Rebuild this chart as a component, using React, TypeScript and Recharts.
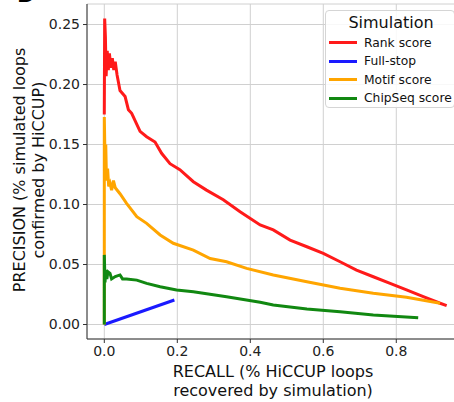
import React from 'react';
import { LineChart, Line, XAxis, YAxis, CartesianGrid } from 'recharts';

const rankRecall = [0.0, 0.001, 0.003, 0.005, 0.008, 0.011, 0.014, 0.018, 0.022, 0.026, 0.03, 0.035, 0.043, 0.057, 0.066, 0.075, 0.098, 0.116, 0.139, 0.157, 0.18, 0.207, 0.244, 0.28, 0.326, 0.372, 0.427, 0.463, 0.509, 0.555, 0.6, 0.646, 0.691, 0.737, 0.783, 0.828, 0.874, 0.92, 0.938];
const rankPrecision = [0.175, 0.255, 0.24, 0.207, 0.228, 0.212, 0.226, 0.214, 0.222, 0.212, 0.219, 0.208, 0.195, 0.19, 0.179, 0.176, 0.161, 0.1565, 0.152, 0.1427, 0.134, 0.129, 0.119, 0.112, 0.104, 0.094, 0.083, 0.0788, 0.0704, 0.0648, 0.0593, 0.0523, 0.0454, 0.0398, 0.0343, 0.0288, 0.0232, 0.0177, 0.0157];

const fullStopRecall = [0.0, 0.192];
const fullStopPrecision = [0.0, 0.0204];

const motifRecall = [0.0, 0.0, 0.002, 0.004, 0.006, 0.009, 0.012, 0.0156, 0.02, 0.025, 0.03, 0.043, 0.061, 0.089, 0.116, 0.153, 0.189, 0.244, 0.29, 0.335, 0.39, 0.463, 0.555, 0.646, 0.737, 0.828, 0.92];
const motifPrecision = [0.0, 0.173, 0.137, 0.15, 0.12, 0.13, 0.115, 0.1177, 0.112, 0.12, 0.114, 0.109, 0.101, 0.0898, 0.0843, 0.0746, 0.0677, 0.062, 0.055, 0.0523, 0.0468, 0.0413, 0.0357, 0.0302, 0.026, 0.0227, 0.0177];

const chipRecall = [0.0, 0.0, 0.002, 0.004, 0.007, 0.01, 0.0156, 0.02, 0.03, 0.043, 0.05, 0.061, 0.089, 0.116, 0.153, 0.198, 0.244, 0.335, 0.427, 0.463, 0.555, 0.646, 0.737, 0.86];
const chipPrecision = [0.0, 0.058, 0.035, 0.0454, 0.038, 0.044, 0.0427, 0.038, 0.04, 0.0413, 0.038, 0.038, 0.037, 0.0343, 0.0315, 0.0288, 0.0273, 0.0232, 0.0185, 0.0163, 0.0129, 0.0107, 0.0079, 0.0057];

const xTicks = [0.0, 0.2, 0.4, 0.6, 0.8];
const yTicks = [0.0, 0.05, 0.1, 0.15, 0.2, 0.25];

const seriesNames = ['Rank score', 'Full-stop', 'Motif score', 'ChipSeq score'];
const seriesColors = ['#ff1a1a', '#1a1aff', '#ffa500', '#118811'];

const toPoints = (xs: number[], ys: number[]) => xs.map((x, i) => ({ x, y: ys[i] }));

const series = [
  toPoints(rankRecall, rankPrecision),
  toPoints(fullStopRecall, fullStopPrecision),
  toPoints(motifRecall, motifPrecision),
  toPoints(chipRecall, chipPrecision),
];

const FONT = '"DejaVu Sans", sans-serif';
const X_DOMAIN: [number, number] = [-0.0474, 0.9718];
const Y_DOMAIN: [number, number] = [-0.01208, 0.2671];

const YLabel = () => (
  <g>
    <text x={25} y={170} transform="rotate(-90, 25, 170)" textAnchor="middle" fontSize={16} fill="#111" fontFamily={FONT}>
      PRECISION (% simulated loops
    </text>
    <text x={44} y={170} transform="rotate(-90, 44, 170)" textAnchor="middle" fontSize={16} fill="#111" fontFamily={FONT}>
      confirmed by HiCCUP)
    </text>
  </g>
);

const XLabel = () => (
  <g>
    <text x={273} y={376.5} textAnchor="middle" fontSize={16} fill="#111" fontFamily={FONT}>
      RECALL (% HiCCUP loops
    </text>
    <text x={273} y={396} textAnchor="middle" fontSize={16} fill="#111" fontFamily={FONT}>
      recovered by simulation)
    </text>
  </g>
);

const LegendBox = () => (
  <div
    style={{
      position: 'absolute',
      left: 325,
      top: 10,
      width: 130,
      height: 98,
      border: '1px solid #d5d5d5',
      borderRadius: 4,
      background: 'rgba(255,255,255,0.85)',
      fontFamily: FONT,
      color: '#111',
      boxSizing: 'border-box',
      zIndex: 3,
    }}
  >
    <div style={{ position: 'absolute', left: 0, width: 130, top: 2, textAlign: 'center', fontSize: 16, lineHeight: '20px' }}>
      Simulation
    </div>
    {seriesNames.map((name, i) => (
      <div key={name}>
        <div
          style={{
            position: 'absolute',
            left: 3,
            top: 30 + i * 18.5,
            width: 28,
            height: 3,
            background: seriesColors[i],
          }}
        />
        <div
          style={{
            position: 'absolute',
            left: 38,
            top: 23.5 + i * 18.5,
            fontSize: 12.3,
            lineHeight: '16px',
            whiteSpace: 'nowrap',
          }}
        >
          {name}
        </div>
      </div>
    ))}
  </div>
);

export default function App() {
  return (
    <div style={{ position: 'absolute', left: 0, top: 0, width: 454, height: 402, overflow: 'hidden', background: '#fff' }}>
      <div
        style={{
          position: 'absolute',
          left: 17,
          top: -16,
          fontSize: 22,
          fontWeight: 'bold',
          fontFamily: FONT,
          lineHeight: '22px',
          color: '#000',
          zIndex: 2,
        }}
      >
        D
      </div>
      <LineChart width={459} height={402} margin={{ top: 4, right: 0, bottom: 0, left: 0 }}>
        <CartesianGrid stroke="#d0d0d0" strokeWidth={1} />
        <XAxis
          type="number"
          dataKey="x"
          domain={X_DOMAIN}
          ticks={xTicks}
          allowDataOverflow
          height={63}
          tickSize={4}
          tickMargin={3}
          tickFormatter={(v: number) => v.toFixed(1)}
          tick={{ fontSize: 14, fill: '#222', fontFamily: FONT }}
          stroke="#333"
          label={{ content: () => <XLabel /> }}
        />
        <XAxis
          xAxisId="top"
          orientation="top"
          type="number"
          dataKey="x"
          domain={X_DOMAIN}
          allowDataOverflow
          height={0}
          tick={false}
          tickLine={false}
          stroke="#333"
        />
        <YAxis
          type="number"
          dataKey="y"
          domain={Y_DOMAIN}
          ticks={yTicks}
          allowDataOverflow
          width={87}
          tickSize={4}
          tickMargin={3}
          tickFormatter={(v: number) => v.toFixed(2)}
          tick={{ fontSize: 14, fill: '#222', fontFamily: FONT }}
          stroke="#333"
          label={{ content: () => <YLabel /> }}
        />
        {series.map((pts, i) => (
          <Line
            key={seriesNames[i]}
            data={pts}
            dataKey="y"
            name={seriesNames[i]}
            type="linear"
            stroke={seriesColors[i]}
            strokeWidth={3}
            dot={false}
            activeDot={false}
            isAnimationActive={false}
          />
        ))}
      </LineChart>
      <LegendBox />
    </div>
  );
}
